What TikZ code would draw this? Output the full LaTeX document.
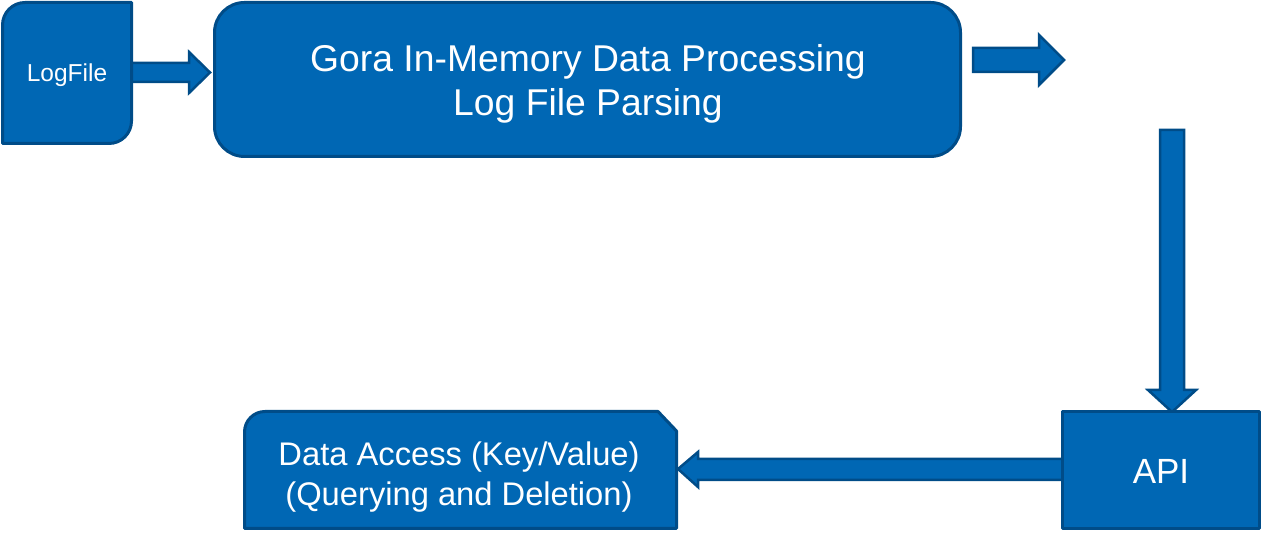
\documentclass[tikz,border=0pt]{standalone}
\usepackage{fontspec}
\setmainfont{Liberation Sans}
\definecolor{bfill}{RGB}{0,103,180}
\definecolor{bline}{RGB}{0,76,136}
\begin{document}
\begin{tikzpicture}[x=1pt,y=1pt,
  shapestyle/.style={fill=bfill,draw=bline,line width=3pt,line join=round},
  arrowstyle/.style={fill=bfill,draw=bline,line width=2.5pt,line join=miter},
  lbl/.style={text=white,align=center,inner sep=0pt}]
\useasboundingbox (0,0) rectangle (1262,534);
% block arrows
\draw[arrowstyle] (130,471)--(189,471)--(189,482)--(210,461.5)--(189,441)--(189,452)--(130,452)--cycle;
\draw[arrowstyle] (973,486)--(1039,486)--(1039,499)--(1064,474)--(1039,449)--(1039,462)--(973,462)--cycle;
\draw[arrowstyle] (1160,404)--(1184,404)--(1184,144)--(1196,144)--(1172,122)--(1148,144)--(1160,144)--cycle;
\draw[arrowstyle] (1064,75)--(698,75)--(698,82)--(678,65)--(698,47)--(698,54)--(1064,54)--cycle;
% LogFile
\draw[shapestyle] (2.5,390.5) -- (2.5,509) arc[start angle=180,end angle=90,radius=22.5] -- (131.5,531.5) -- (131.5,413) arc[start angle=0,end angle=-90,radius=22.5] -- cycle;
\node[lbl,font=\fontsize{24.5}{29}\selectfont] (log) at (67,459) {LogFile};
% main box
\node[shapestyle,rounded corners=30pt,minimum width=746pt,minimum height=154pt,inner sep=0pt] (main) at (587.5,454.5) {};
\node[lbl,font=\fontsize{37.3}{44}\selectfont] (maintext) at (588,450) {Gora In-Memory Data Processing\\Log File Parsing};
% Data access
\draw[shapestyle] (244.5,5.5) -- (244.5,102) arc[start angle=180,end angle=90,radius=20.5] -- (658,122.5) -- (676.5,103) -- (676.5,5.5) -- cycle;
\node[lbl,font=\fontsize{32.7}{40}\selectfont] (data) at (459,57) {Data Access (Key/Value)\\(Querying and Deletion)};
% API
\node[shapestyle,minimum width=197pt,minimum height=117pt,inner sep=0pt] (apibox) at (1160.5,63.5) {};
\node[lbl,font=\fontsize{35}{42}\selectfont] (api) at (1161,63) {API};
\end{tikzpicture}
\end{document}
